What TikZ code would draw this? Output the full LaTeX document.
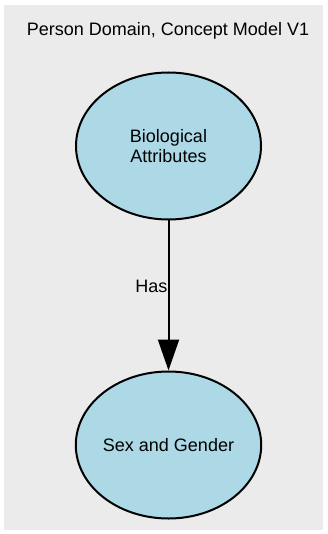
\documentclass[tikz,border=0pt]{standalone}
\usepackage{fontspec}
\setmainfont{Liberation Sans}
\usetikzlibrary{shapes.geometric,arrows.meta}
\definecolor{bggray}{HTML}{EBEBEB}
\definecolor{nodeblue}{HTML}{ADD8E6}
\tikzset{
  concept/.style={ellipse, draw=black, line width=2pt, fill=nodeblue,
    minimum width=185pt, minimum height=147pt, inner sep=0pt, align=center,
    font=\fontsize{18}{20.5}\selectfont},
  relation/.style={line width=2pt, -{Triangle[length=31pt,width=21pt]}},
  rellabel/.style={font=\fontsize{18}{20.5}\selectfont, inner sep=0pt}
}
\begin{document}
\begin{tikzpicture}[x=1pt,y=-1pt]
\useasboundingbox (0,0) rectangle (327,534);
\fill[bggray] (4,5) rectangle (323,530);
\node[anchor=base, inner sep=0pt, font=\fontsize{18}{20.5}\selectfont] (title) at (168,36) {Person Domain, Concept Model V1};
\node[concept] (bio) at (168.5,146) {Biological\\Attributes};
\node[concept] (sex) at (168.5,445) {Sex and Gender};
\draw[relation] (bio.south) -- node[rellabel, pos=0.44, anchor=east] (has) {Has} (sex.north);
\end{tikzpicture}
\end{document}
